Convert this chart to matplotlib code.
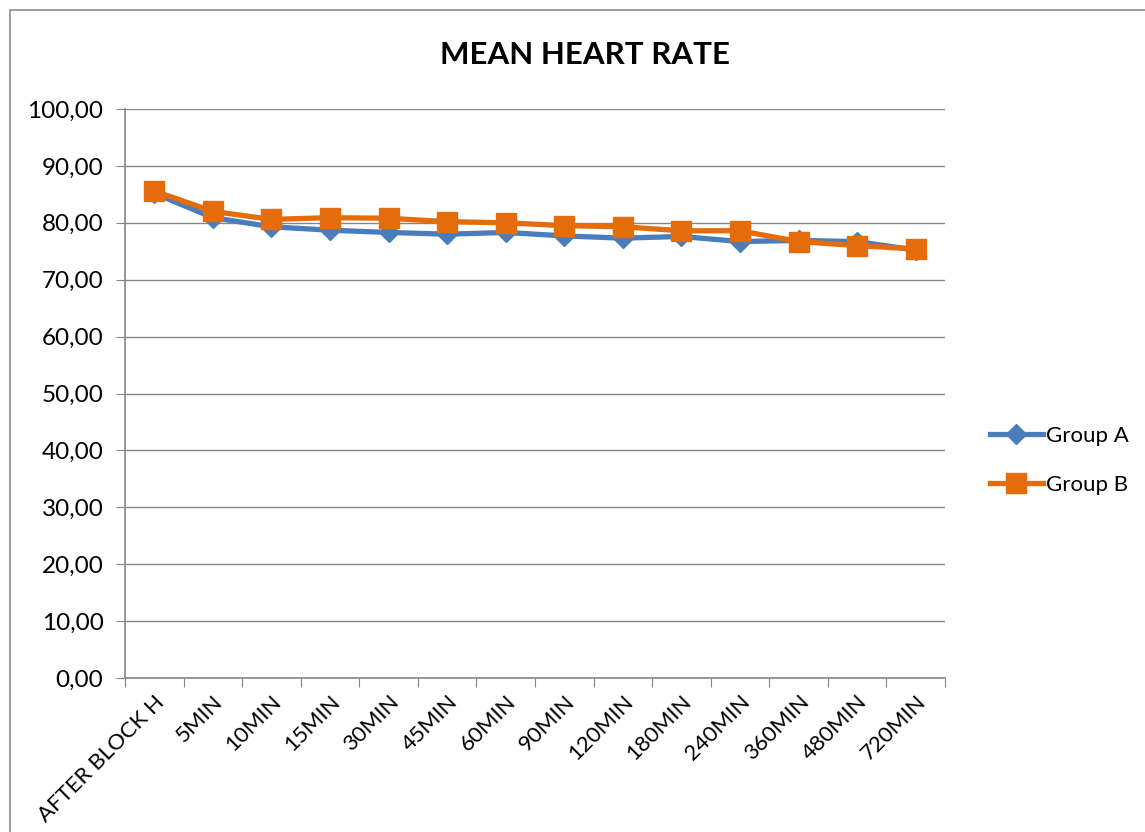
import matplotlib.pyplot as plt
from matplotlib.patches import Rectangle

# Data
categories = ['AFTER BLOCK H', '5MIN', '10MIN', '15MIN', '30MIN', '45MIN', '60MIN',
              '90MIN', '120MIN', '180MIN', '240MIN', '360MIN', '480MIN', '720MIN']
group_a = [85.2, 80.9, 79.3, 78.7, 78.3, 78.0, 78.3, 77.7, 77.3, 77.6, 76.7, 76.9, 76.7, 75.2]
group_b = [85.6, 82.0, 80.6, 80.9, 80.8, 80.2, 80.0, 79.5, 79.3, 78.6, 78.6, 76.7, 76.0, 75.4]
y_ticks = [0, 10, 20, 30, 40, 50, 60, 70, 80, 90, 100]

plt.rcParams['font.family'] = ['Lato', 'DejaVu Sans']

fig = plt.figure(figsize=(11.45, 8.32), dpi=100)
W, H = 1145, 832
ax = fig.add_axes([125 / W, 1 - 678 / H, 820 / W, 569 / H])

# chart border
fig.patches.append(Rectangle((10 / W, -0.1), 1.2, 1 - 10 / H + 0.1,
                             transform=fig.transFigure, fill=False,
                             edgecolor='#8c8c8c', linewidth=1.2))

x = list(range(len(categories)))
ax.plot(x, group_a, color='#4A7EBB', linewidth=3.8, marker='D', markersize=10,
        label='Group A', solid_joinstyle='round', zorder=3)
ax.plot(x, group_b, color='#E46C0A', linewidth=3.8, marker='s', markersize=14,
        label='Group B', solid_joinstyle='round', zorder=4)

ax.set_xlim(-0.5, len(categories) - 0.5)
ax.set_ylim(0, 100)
ax.set_yticks(y_ticks)
ax.set_yticklabels([f'{v:.2f}'.replace('.', ',') for v in y_ticks], fontsize=17.5)
ax.set_xticks([i - 0.5 for i in range(len(categories) + 1)], minor=False)
ax.set_xticklabels([])
ax.set_xticks(x, minor=True)
ax.set_xticklabels(categories, minor=True, rotation=45, ha='right',
                   rotation_mode='anchor', fontsize=16)
ax.tick_params(axis='x', which='minor', length=0, pad=10)
ax.tick_params(axis='x', which='major', length=6.5, color='#868686', direction='out')
ax.tick_params(axis='y', length=6.5, color='#868686', direction='out', pad=9)

ax.grid(axis='y', color='#868686', linewidth=1)
ax.set_axisbelow(True)
for side in ['top', 'right']:
    ax.spines[side].set_visible(False)
for side in ['left', 'bottom']:
    ax.spines[side].set_color('#868686')
    ax.spines[side].set_linewidth(1.2)

fig.text(585 / W, 1 - 55 / H, 'MEAN HEART RATE', ha='center', va='center',
         fontsize=22.5, fontweight='bold')

ax.legend(loc='center left', bbox_to_anchor=(1.03, 0.382), frameon=False,
          fontsize=16, handlelength=2.4, handletextpad=0.15, labelspacing=1.3)

fig.savefig('out.png', dpi=100)
